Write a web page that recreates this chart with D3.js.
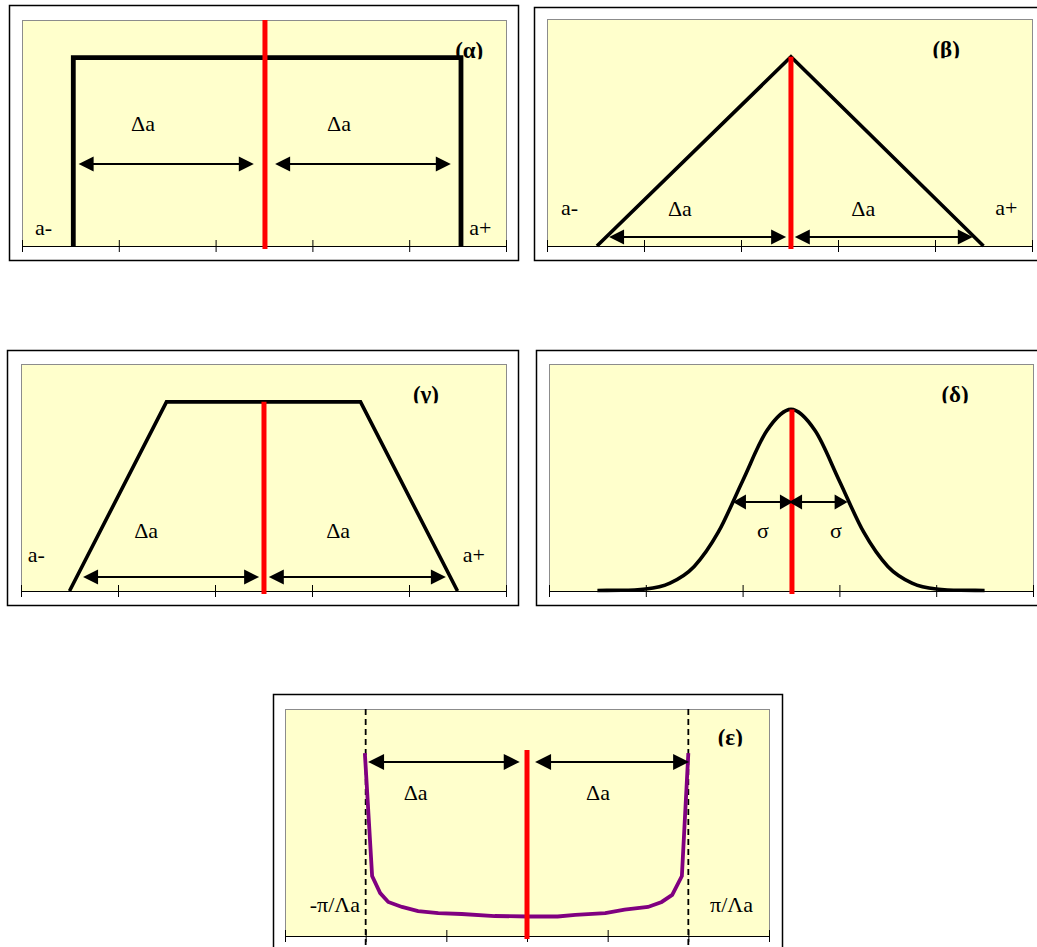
<!DOCTYPE html>
<html>
<head>
<meta charset="utf-8">
<script src="https://cdn.jsdelivr.net/npm/d3@7"></script>
<style>
  html, body { margin: 0; padding: 0; background: #ffffff; }
  svg { display: block; }
  text { font-family: "Liberation Serif", "Times New Roman", serif; fill: #000; }
</style>
</head>
<body>
<svg id="chart" width="1037" height="947"></svg>
<script>
// ---- tick positions along the horizontal axes ----
const tickValues = [0, 2, 4, 6, 8, 10];
const epsTickValues = [0, 1, 2, 3, 4, 5, 6];

// ---- (α) uniform (rectangular) distribution ----
const alphaX = [1.06, 1.06, 9.07, 9.07];
const alphaY = [0, 1, 1, 0];
const alphaCentre = { x: 5.02, top: 1.2 };
const alphaArrows = [[1.17, 4.79, 0.435], [5.23, 8.86, 0.435]];
const alphaLabels = [["Δa", 2.50, 0.61, "middle"], ["Δa", 6.55, 0.61, "middle"],
                     ["a-", 0.27, 0.058, "start"], ["a+", 9.24, 0.058, "start"]];
const alphaTitle = ["(α)", 9.24, 1.0];

// ---- (β) triangular distribution ----
const betaX = [1.03, 5.03, 9.0];
const betaY = [0, 1, 0];
const betaCentre = { x: 5.03, top: 1.0 };
const betaArrows = [[1.28, 4.93, 0.048], [5.11, 8.78, 0.048]];
const betaLabels = [["Δa", 2.74, 0.16, "middle"], ["Δa", 6.52, 0.16, "middle"],
                    ["a-", 0.29, 0.165, "start"], ["a+", 9.24, 0.165, "start"]];
const betaTitle = ["(β)", 8.23, 1.0];

// ---- (γ) trapezoidal distribution ----
const gammaX = [1, 3, 7, 9];
const gammaY = [0, 1, 1, 0];
const gammaCentre = { x: 5.01, top: 1.0 };
const gammaArrows = [[1.28, 4.91, 0.074], [5.11, 8.76, 0.074]];
const gammaLabels = [["Δa", 2.58, 0.28, "middle"], ["Δa", 6.54, 0.28, "middle"],
                     ["a-", 0.14, 0.153, "start"], ["a+", 9.11, 0.153, "start"]];
const gammaTitle = ["(γ)", 8.35, 1.0];

// ---- (δ) normal distribution ----
const deltaX = [1, 1.5, 2, 2.5, 3, 3.5, 4, 4.5, 5, 5.5, 6, 6.5, 7, 7.5, 8, 8.5, 9];
const deltaY = [0.003, 0.004, 0.011, 0.042, 0.130, 0.312, 0.582, 0.847, 0.96,
                0.847, 0.582, 0.312, 0.130, 0.042, 0.011, 0.004, 0.003];
const deltaCentre = { x: 5.02, top: 0.96 };
const deltaArrows = [[3.80, 5.04, 0.47], [4.96, 6.17, 0.47]];
const deltaLabels = [["σ", 4.42, 0.28, "middle"], ["σ", 5.93, 0.28, "middle"]];
const deltaTitle = ["(δ)", 8.39, 1.0];

// ---- (ε) U-shaped (arcsine) distribution ----
const epsX = [0.99, 1.08, 1.18, 1.28, 1.45, 1.65, 1.90, 2.19, 2.60, 3.01,
              3.38, 3.60, 3.97, 4.21, 4.50, 4.67, 4.80, 4.92, 5.00];
const epsY = [8.06, 2.64, 1.89, 1.50, 1.28, 1.10, 1.01, 0.97, 0.88, 0.86,
              0.86, 0.93, 1.01, 1.16, 1.28, 1.50, 1.81, 2.64, 8.06];
const epsCentre = { x: 3.0, top: 8.19 };
const epsBounds = [1, 5];
const epsArrows = [[1.03, 2.91, 7.67], [3.10, 5.01, 7.67]];
const epsLabels = [["Δa", 1.62, 5.99, "middle"], ["Δa", 3.88, 5.99, "middle"],
                   ["-π/Λa", 0.93, 1.06, "end"], ["π/Λa", 5.27, 1.06, "start"]];
const epsTitle = ["(ε)", 5.52, 8.41];

// ---- panel layout ----
const panels = [
  { frame: [9, 5, 509, 255],   plot: [22, 20, 484, 226],  xMax: 10, yMax: 1.2, ticks: tickValues,
    xs: alphaX, ys: alphaY, color: "#000", lw: 4.8, curve: d3.curveLinear,
    centre: alphaCentre, arrows: alphaArrows, labels: alphaLabels, title: alphaTitle, head: [15, 7.5] },
  { frame: [534, 7, 511, 253], plot: [547, 19, 485, 227], xMax: 10, yMax: 1.2, ticks: tickValues,
    xs: betaX, ys: betaY, color: "#000", lw: 3.6, curve: d3.curveLinear,
    centre: betaCentre, arrows: betaArrows, labels: betaLabels, title: betaTitle, head: [15, 7.5] },
  { frame: [7, 350, 511, 255], plot: [21, 364, 485, 227], xMax: 10, yMax: 1.2, ticks: tickValues,
    xs: gammaX, ys: gammaY, color: "#000", lw: 3.6, curve: d3.curveLinear,
    centre: gammaCentre, arrows: gammaArrows, labels: gammaLabels, title: gammaTitle, head: [15, 7.5] },
  { frame: [536, 350, 509, 255], plot: [549, 364, 484, 227], xMax: 10, yMax: 1.2, ticks: tickValues,
    xs: deltaX, ys: deltaY, color: "#000", lw: 3.6, curve: d3.curveMonotoneX,
    centre: deltaCentre, arrows: deltaArrows, labels: deltaLabels, title: deltaTitle, head: [13, 7.5] },
  { frame: [273, 694, 509, 262], plot: [285, 709, 484, 227], xMax: 6, yMax: 10, ticks: epsTickValues,
    xs: epsX, ys: epsY, color: "#800080", lw: 3.8, curve: d3.curveLinear,
    centre: epsCentre, arrows: epsArrows, labels: epsLabels, title: epsTitle, head: [16, 8],
    bounds: epsBounds }
];

const svg = d3.select("#chart");
svg.append("rect").attr("width", 1037).attr("height", 947).attr("fill", "#ffffff");

const defs = svg.append("defs");

panels.forEach((p, i) => {
  const g = svg.append("g");
  const [fx, fy, fw, fh] = p.frame;
  const [px, py, pw, ph] = p.plot;

  // outer chart frame
  g.append("rect")
    .attr("x", fx + 0.5).attr("y", fy + 0.5).attr("width", fw).attr("height", fh)
    .attr("fill", "#ffffff").attr("stroke", "#000").attr("stroke-width", 1.5);

  const x = d3.scaleLinear().domain([0, p.xMax]).range([px, px + pw]);
  const y = d3.scaleLinear().domain([0, p.yMax]).range([py + ph, py]);

  // plot area
  g.append("rect")
    .attr("x", px + 0.5).attr("y", py + 0.5).attr("width", pw).attr("height", ph)
    .attr("fill", "#FFFFCC").attr("stroke", "#8c8c8c").attr("stroke-width", 1);

  // dashed boundary guides
  if (p.bounds) {
    g.selectAll(".bound").data(p.bounds).join("line")
      .attr("x1", d => x(d)).attr("x2", d => x(d))
      .attr("y1", y(p.yMax)).attr("y2", y(0) + 16)
      .attr("stroke", "#000").attr("stroke-width", 1.8)
      .attr("stroke-dasharray", "6,4");
  }

  // horizontal axis with crossing tick marks
  const ax = g.append("g")
    .attr("transform", `translate(0,${y(0)})`)
    .call(d3.axisBottom(x).tickValues(p.ticks).tickSizeInner(6).tickSizeOuter(0).tickFormat(() => ""));
  ax.select(".domain").attr("stroke", "#000");
  ax.selectAll(".tick line").attr("y1", -6).attr("y2", 6).attr("stroke", "#000");

  // distribution curve
  const pts = p.xs.map((v, k) => [v, p.ys[k]]);
  g.append("path")
    .datum(pts)
    .attr("fill", "none")
    .attr("stroke", p.color)
    .attr("stroke-width", p.lw)
    .attr("stroke-linejoin", "miter")
    .attr("d", d3.line().x(d => x(d[0])).y(d => y(d[1])).curve(p.curve));

  // central value marker
  g.append("line")
    .attr("x1", x(p.centre.x)).attr("x2", x(p.centre.x))
    .attr("y1", y(p.centre.top)).attr("y2", y(0) + 3)
    .attr("stroke", "#ff0000").attr("stroke-width", 5);

  // double-headed half-width arrows
  const [hl, hw] = p.head;
  p.arrows.forEach(([a, b, v]) => {
    const x1 = x(a), x2 = x(b), yy = y(v);
    g.append("line")
      .attr("x1", x1 + 4).attr("x2", x2 - 4).attr("y1", yy).attr("y2", yy)
      .attr("stroke", "#000").attr("stroke-width", 2);
    g.append("path")
      .attr("d", `M${x1},${yy}L${x1 + hl},${yy - hw}L${x1 + hl},${yy + hw}Z`)
      .attr("fill", "#000");
    g.append("path")
      .attr("d", `M${x2},${yy}L${x2 - hl},${yy - hw}L${x2 - hl},${yy + hw}Z`)
      .attr("fill", "#000");
  });

  // annotations
  g.selectAll(".lbl").data(p.labels).join("text")
    .attr("x", d => x(d[1])).attr("y", d => y(d[2]))
    .attr("text-anchor", d => d[3])
    .attr("font-size", 22)
    .text(d => d[0]);

  // panel letter, cut at the base like a clipped text box
  const [tt, tx, ty] = p.title;
  const clipId = "titleclip" + i;
  defs.append("clipPath").attr("id", clipId)
    .append("rect")
    .attr("x", px).attr("y", py)
    .attr("width", pw).attr("height", y(ty) + 1.5 - py);
  g.append("text")
    .attr("clip-path", `url(#${clipId})`)
    .attr("x", x(tx)).attr("y", y(ty))
    .attr("text-anchor", "middle")
    .attr("font-size", 23)
    .attr("font-weight", "bold")
    .text(tt);
});
</script>
</body>
</html>
